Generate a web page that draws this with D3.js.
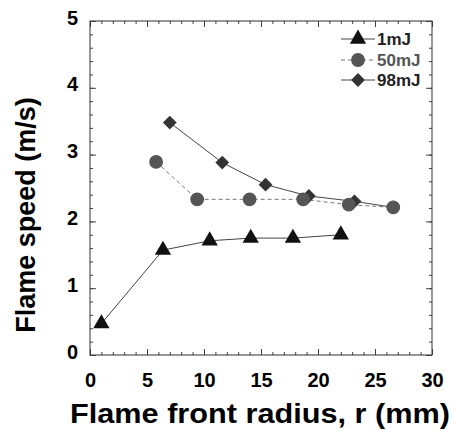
<!DOCTYPE html>
<html>
<head>
<meta charset="utf-8">
<script src="https://cdn.jsdelivr.net/npm/d3@7"></script>
<style>
  body { margin: 0; background: #fff; }
  svg { font-family: "Liberation Sans", Arial, sans-serif; font-weight: bold; }
  .axis path { stroke: #333; }
  .axis line { stroke: #444; }
</style>
</head>
<body>
<svg id="chart" width="457" height="431"></svg>
<script>
// values
const r1 = [1, 6.4, 10.5, 14.1, 17.8, 22.0]
const v1 = [0.47, 1.57, 1.71, 1.75, 1.75, 1.80]
const r50 = [5.8, 9.4, 14.0, 18.7, 22.7, 26.6]
const v50 = [2.89, 2.33, 2.33, 2.33, 2.25, 2.21]
const r98 = [7.0, 11.6, 15.4, 19.2, 23.2, 26.6]
const v98 = [3.48, 2.88, 2.55, 2.38, 2.30, 2.21]
const xTicks = [0, 5, 10, 15, 20, 25, 30]
const yTicks = [0, 1, 2, 3, 4, 5]
const seriesNames = ["1mJ", "50mJ", "98mJ"]

const svg = d3.select("#chart")
const pLeft = 90, pRight = 432, pTop = 21, pBottom = 355

let x = d3.scaleLinear().domain([0, 30]).range([pLeft, pRight])
let y = d3.scaleLinear().domain([0, 5]).range([pBottom, pTop])

// frame with inward ticks on all four sides
function tickAxis(axisFn, scale, values, size, pos, labels){
  let g = svg.append("g")
             .attr("class", "axis")
             .attr("transform", pos)
             .call(axisFn(scale).tickValues(values).tickSize(-size).tickSizeOuter(0)
                                .tickFormat(labels ? d3.format("d") : ""))
  g.select(".domain").remove()
  return g
}

const minorX = d3.range(0, 31, 1), minorY = d3.range(0, 5.01, 0.2)
tickAxis(d3.axisBottom, x, minorX, 3, `translate(0,${pBottom})`, false)
tickAxis(d3.axisTop, x, minorX, 3, `translate(0,${pTop})`, false)
tickAxis(d3.axisLeft, y, minorY, 3, `translate(${pLeft},0)`, false)
tickAxis(d3.axisRight, y, minorY, 3, `translate(${pRight},0)`, false)

let xa = tickAxis(d3.axisBottom, x, xTicks, 6, `translate(0,${pBottom})`, true)
xa.selectAll("text").attr("y", 32).attr("dy", 0)
  .style("font-size", "20px").attr("fill", "#000")
tickAxis(d3.axisTop, x, xTicks, 6, `translate(0,${pTop})`, false)
let ya = tickAxis(d3.axisLeft, y, yTicks, 6, `translate(${pLeft},0)`, true)
ya.selectAll("text").attr("x", -12).attr("dy", 3)
  .style("font-size", "20px").attr("fill", "#000")
tickAxis(d3.axisRight, y, yTicks, 6, `translate(${pRight},0)`, false)

svg.append("rect")
   .attr("x", pLeft).attr("y", pTop)
   .attr("width", pRight - pLeft).attr("height", pBottom - pTop)
   .attr("fill", "none").attr("stroke", "#333")

// axis titles (x title is drawn wider in the picture)
svg.append("text")
   .attr("x", 70).attr("y", 423)
   .attr("textLength", 380)
   .attr("lengthAdjust", "spacingAndGlyphs")
   .style("font-size", "27px")
   .text("Flame front radius, r (mm)")

svg.append("text")
   .attr("transform", "translate(35,215) rotate(-90)")
   .attr("text-anchor", "middle")
   .style("font-size", "27px")
   .text("Flame speed (m/s)")

// series
const series = [
  {name: seriesNames[0], r: r1, v: v1, stroke: "#444", dash: null, fill: "#111",
   sym: d3.symbol(d3.symbolTriangle, 115), rot: 0},
  {name: seriesNames[1], r: r50, v: v50, stroke: "#777", dash: "4,3", fill: "#555",
   sym: d3.symbol(d3.symbolCircle, 150), rot: 0},
  {name: seriesNames[2], r: r98, v: v98, stroke: "#444", dash: null, fill: "#333",
   sym: d3.symbol(d3.symbolSquare, 95), rot: 45}
]

let line = d3.line()
             .x(d => x(d[0]))
             .y(d => y(d[1]))

// lines first, then markers: 98mJ under 50mJ under 1mJ
series.forEach(s => {
  svg.append("path")
     .datum(s.r.map((r, i) => [r, s.v[i]]))
     .attr("d", line)
     .attr("fill", "none")
     .attr("stroke", s.stroke)
     .attr("stroke-width", 1)
     .attr("stroke-dasharray", s.dash)
})

;[series[2], series[1], series[0]].forEach(s => {
  svg.selectAll(null)
     .data(s.r.map((r, i) => [r, s.v[i]]))
     .enter()
     .append("path")
     .attr("d", s.sym)
     .attr("transform", d => `translate(${x(d[0])},${y(d[1])}) rotate(${s.rot})`)
     .attr("fill", s.fill)
})

// legend
const legY = [39, 60, 80]
series.forEach((s, i) => {
  let g = svg.append("g").attr("transform", `translate(0,${legY[i]})`)
  g.append("line")
   .attr("x1", 341).attr("x2", 375)
   .attr("stroke", s.stroke).attr("stroke-dasharray", s.dash)
  g.append("path")
   .attr("d", s.sym)
   .attr("transform", `translate(358,0) rotate(${s.rot})`)
   .attr("fill", s.fill)
  g.append("text")
   .attr("x", 377).attr("y", 6)
   .style("font-size", "17px")
   .attr("fill", i == 1 ? "#555" : "#222")
   .text(s.name)
})
</script>
</body>
</html>
